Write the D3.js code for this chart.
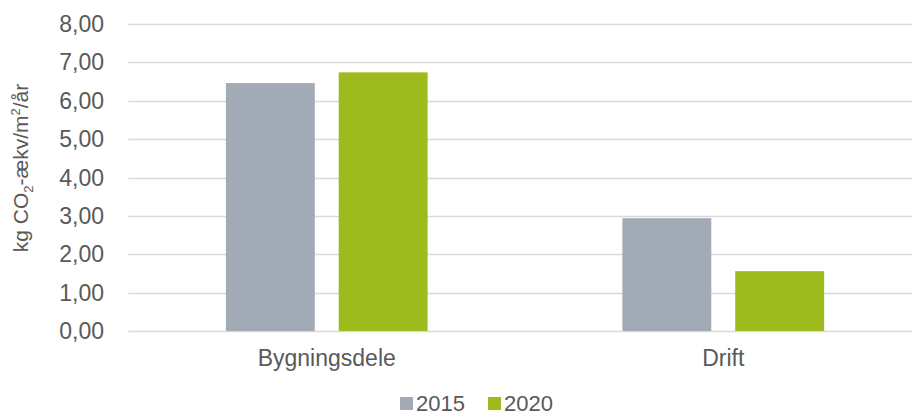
<!DOCTYPE html>
<html>
<head>
<meta charset="utf-8">
<script src="https://cdn.jsdelivr.net/npm/d3@7"></script>
<style>
  body { margin: 0; background: #fff; }
  svg { font-family: "Liberation Sans", Arial, sans-serif; }
</style>
</head>
<body>
<svg id="chart" width="912" height="417"></svg>
<script>
// data
var categories = ["Bygningsdele", "Drift"];
var series = ["2015", "2020"];
var values2015 = [6.46, 2.94];
var values2020 = [6.74, 1.56];
var yTicks = [0, 1, 2, 3, 4, 5, 6, 7, 8];
var colors = ["#a2abb5", "#9ebb1e"];

var svg = d3.select("#chart");
var plotLeft = 128.5, plotRight = 921.5, plotTop = 24, plotBottom = 331;

var y = d3.scaleLinear().domain([0, 8]).range([plotBottom, plotTop]);

var x0 = d3.scaleBand().domain(categories).range([plotLeft, plotRight]).padding(0);
var x1 = d3.scaleBand().domain(series).range([0, x0.bandwidth()])
  .paddingInner(0.212).paddingOuter(0.863);

var fmt = function(d) { return d3.format(".2f")(d).replace(".", ","); };

// gridlines
svg.append("g")
  .selectAll("line")
  .data(yTicks)
  .enter()
  .append("line")
  .attr("x1", plotLeft)
  .attr("x2", 912)
  .attr("y1", d => Math.round(y(d)) + 0.5)
  .attr("y2", d => Math.round(y(d)) + 0.5)
  .attr("stroke", "#d9d9d9")
  .attr("stroke-width", 1.5);

// tick labels
svg.append("g")
  .selectAll("text")
  .data(yTicks)
  .enter()
  .append("text")
  .attr("x", 104)
  .attr("y", d => y(d))
  .attr("dy", "0.35em")
  .attr("text-anchor", "end")
  .attr("fill", "#595959")
  .style("font-size", "23px")
  .text(fmt);

// bars
var rows = categories.map((c, i) => ({ cat: c, vals: [values2015[i], values2020[i]] }));

var g = svg.selectAll(".grp")
  .data(rows)
  .enter()
  .append("g")
  .attr("class", "grp")
  .attr("transform", d => "translate(" + x0(d.cat) + ",0)");

g.selectAll("rect")
  .data(d => d.vals.map((v, j) => ({ s: series[j], v: v, c: colors[j] })))
  .enter()
  .append("rect")
  .attr("x", d => x1(d.s))
  .attr("width", x1.bandwidth())
  .attr("y", d => y(d.v))
  .attr("height", d => y(0) - y(d.v))
  .attr("fill", d => d.c);

// category labels
svg.append("g")
  .selectAll("text")
  .data(categories)
  .enter()
  .append("text")
  .attr("x", d => x0(d) + x0.bandwidth() / 2)
  .attr("y", 366)
  .attr("text-anchor", "middle")
  .attr("fill", "#595959")
  .style("font-size", "23px")
  .text(d => d);

// y axis title
var title = svg.append("text")
  .attr("transform", "translate(28," + 168 + ") rotate(-90)")
  .attr("text-anchor", "middle")
  .attr("fill", "#595959")
  .style("font-size", "21px");
title.append("tspan").text("kg CO");
title.append("tspan").attr("dy", 5).style("font-size", "13px").text("2");
title.append("tspan").attr("dy", -5).text("-ækv/m");
title.append("tspan").attr("dy", -8).style("font-size", "13px").text("2");
title.append("tspan").attr("dy", 8).text("/år");

// legend (kept just inside the bottom edge)
var leg = svg.append("g").attr("transform", "translate(400,397)");
var items = leg.selectAll("g")
  .data(series)
  .enter()
  .append("g")
  .attr("transform", (d, i) => "translate(" + (i * 88) + ",0)");
items.append("rect")
  .attr("width", 13)
  .attr("height", 13)
  .attr("fill", (d, i) => colors[i]);
items.append("text")
  .attr("x", 16)
  .attr("y", 14)
  .attr("fill", "#595959")
  .style("font-size", "22px")
  .text(d => d);
</script>
</body>
</html>
